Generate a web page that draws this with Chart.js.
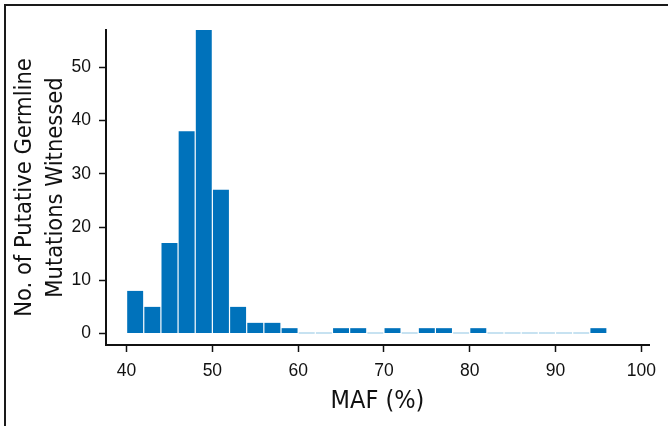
<!doctype html>
<html lang="en">
<head>
    <meta charset="utf-8">
    <script src="https://cdn.jsdelivr.net/npm/chart.js/dist/chart.umd.min.js"></script>
    <title>MAF histogram</title>
    <style>
        * { margin: 0; padding: 0; }
        body { background: white; }
        .wrap { position: relative; width: 668px; height: 426px; overflow: hidden; }
        .frame {
            position: absolute; left: 4px; top: 4px; width: 700px; height: 460px;
            border-top: 2px solid #1a1a1a; border-left: 2px solid #1a1a1a;
        }
        canvas { position: absolute; left: 0; top: 0; }
    </style>
</head>
<body>
    <div class="wrap">
        <div class="frame"></div>
        <canvas id="mafChart" width="668" height="426"></canvas>
    </div>

    <script>
    // bin centres (2% wide bins, 40 to 96)
    var binCenters = [41, 43, 45, 47, 49, 51, 53, 55, 57, 59, 61, 63, 65, 67,
                      69, 71, 73, 75, 77, 79, 81, 83, 85, 87, 89, 91, 93, 95];
    var counts = [8, 5, 17, 38, 57, 27, 5, 2, 2, 1, 0, 0, 1, 1,
                  0, 1, 0, 1, 1, 0, 1, 0, 0, 0, 0, 0, 0, 1];
    var yTicks = [0, 10, 20, 30, 40, 50];
    var xTicks = [40, 50, 60, 70, 80, 90, 100];

    var titleFont = "'Liberation Sans Narrow', 'DejaVu Sans Condensed', sans-serif";
    var tickFont = "'Liberation Sans', Arial, sans-serif";

    // empty bins are shown as a thin pale line on the baseline
    var emptyBins = {
        id: 'emptyBins',
        afterDatasetsDraw: function (chart) {
            var ctx = chart.ctx;
            var meta = chart.getDatasetMeta(0);
            var y0 = chart.scales.y.getPixelForValue(0);
            ctx.save();
            ctx.strokeStyle = '#b4d9ec';
            ctx.lineWidth = 1.5;
            meta.data.forEach(function (el, i) {
                if (counts[i] !== 0) return;
                ctx.beginPath();
                ctx.moveTo(el.x - el.width / 2, y0 - 0.5);
                ctx.lineTo(el.x + el.width / 2, y0 - 0.5);
                ctx.stroke();
            });
            ctx.restore();
        }
    };

    var ctx = document.getElementById('mafChart');
    var mafChart = new Chart(ctx, {
        type: 'bar',
        data: {
            datasets: [{
                data: binCenters.map(function (x, i) { return { x: x, y: counts[i] }; }),
                backgroundColor: '#0072bb',
                borderWidth: 0,
                categoryPercentage: 1,
                barPercentage: 0.93
            }]
        },
        options: {
            responsive: false,
            devicePixelRatio: 1,
            animation: false,
            layout: { padding: { top: 30, right: 19, left: 0, bottom: 0 } },
            plugins: { legend: { display: false }, tooltip: { enabled: false } },
            scales: {
                x: {
                    type: 'linear',
                    offset: false,
                    min: 37.6,
                    max: 100.9,
                    afterFit: function (s) { s.height = 81; },
                    afterBuildTicks: function (s) {
                        s.ticks = xTicks.map(function (v) { return { value: v }; });
                    },
                    grid: { offset: false, drawOnChartArea: false, tickLength: 7, tickWidth: 1.5, tickColor: '#111' },
                    border: { color: '#111', width: 2 },
                    ticks: {
                        padding: 9, color: '#111', maxRotation: 0, autoSkip: false,
                        font: { family: tickFont, size: 17.5 }
                    },
                    title: {
                        display: true, text: 'MAF (%)', color: '#111',
                        font: { family: titleFont, size: 25, lineHeight: 1 },
                        padding: { top: 0, bottom: 12 }
                    }
                },
                y: {
                    min: -2.16,
                    max: 57,
                    afterFit: function (s) { s.width = 106; },
                    afterBuildTicks: function (s) {
                        s.ticks = yTicks.map(function (v) { return { value: v }; });
                    },
                    grid: { drawOnChartArea: false, tickLength: 7, tickWidth: 1.5, tickColor: '#111' },
                    border: { color: '#111', width: 2 },
                    ticks: {
                        padding: 8, color: '#111',
                        font: { family: tickFont, size: 17.5 }
                    },
                    title: {
                        display: true,
                        text: ['No. of Putative Germline', 'Mutations Witnessed'],
                        color: '#111',
                        font: { family: titleFont, size: 23.5, lineHeight: 1.3 },
                        padding: { top: 10, bottom: 0 }
                    }
                }
            }
        },
        plugins: [emptyBins]
    });
    </script>
</body>
</html>
